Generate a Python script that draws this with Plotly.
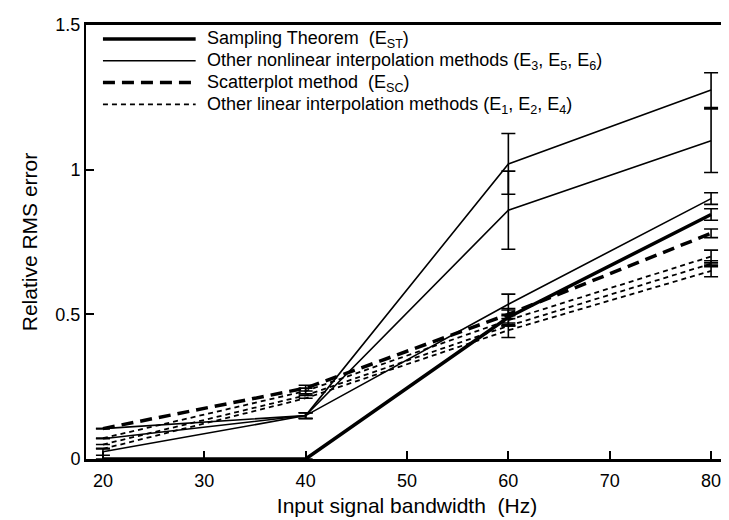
import plotly.graph_objects as go

# ---- data ----
bandwidth = [20, 40, 60, 80]

e_st = [0.0, 0.0, 0.49, 0.845]            # Sampling Theorem
e_st_err = [None, None, 0.03, 0.02]

e3 = [0.105, 0.15, 1.02, 1.275]           # other nonlinear methods
e3_err = [None, 0.01, 0.105, 0.06]
e5 = [0.07, 0.15, 0.86, 1.10]
e5_err = [None, 0.01, 0.135, 0.11]
e6 = [0.025, 0.15, 0.535, 0.90]
e6_err = [0.012, 0.01, 0.035, 0.02]

e_sc = [0.105, 0.245, 0.50, 0.78]         # Scatterplot method
e_sc_err = [None, 0.01, 0.015, 0.015]

e1 = [0.072, 0.235, 0.48, 0.70]           # other linear methods
e1_err = [None, 0.01, 0.015, 0.022]
e2 = [0.05, 0.22, 0.46, 0.675]
e2_err = [None, None, None, 0.01]
e4 = [0.035, 0.21, 0.445, 0.65]
e4_err = [None, None, 0.025, 0.02]

x_ticks = [20, 30, 40, 50, 60, 70, 80]
y_ticks = [0, 0.5, 1, 1.5]
y_ticktext = ["0", "0.5", "1", "1.5"]

legend_labels = [
    "Sampling Theorem  (E<sub>ST</sub>)",
    "Other nonlinear interpolation methods (E<sub>3</sub>, E<sub>5</sub>, E<sub>6</sub>)",
    "Scatterplot method  (E<sub>SC</sub>)",
    "Other linear interpolation methods (E<sub>1</sub>, E<sub>2</sub>, E<sub>4</sub>)",
]

FONT = "Liberation Sans, Arial, sans-serif"

thick = dict(color="black", width=3.5)
thin = dict(color="black", width=1.6)
thick_dash = dict(color="black", width=3.5, dash="12px,7px")
thin_dot = dict(color="black", width=1.8, dash="5px,4px")

series = [
    (e3, e3_err, thin),
    (e5, e5_err, thin),
    (e6, e6_err, thin),
    (e1, e1_err, thin_dot),
    (e2, e2_err, thin_dot),
    (e4, e4_err, thin_dot),
    (e_sc, e_sc_err, thick_dash),
    (e_st, e_st_err, thick),
]

fig = go.Figure()
for vals, errs, line in series:
    fig.add_trace(go.Scatter(
        x=bandwidth, y=vals, mode="lines", line=line, showlegend=False,
        error_y=dict(type="data", array=errs, visible=True, color="black",
                     thickness=1.6, width=7),
    ))

# ---- manual legend (long line samples as in the reference) ----
W, H = 729, 520
L, R, T, B = 78, 7, 14, 69
pw, ph = W - L - R, H - T - B


def px(xp):
    return (xp - L) / pw


def py(yp):
    return (H - B - yp) / ph


legend_styles = [thick, thin, thick_dash, thin_dot]
legend_rows = [28, 50, 72, 94]
for lab, st, yr in zip(legend_labels, legend_styles, legend_rows):
    fig.add_shape(type="line", xref="paper", yref="paper",
                  x0=px(95), x1=px(188), y0=py(yr), y1=py(yr), line=st)
    fig.add_annotation(xref="paper", yref="paper", x=px(197), y=py(yr + 1),
                       text=lab, showarrow=False, xanchor="left",
                       yanchor="middle",
                       font=dict(family=FONT, size=18, color="black"))

fig.update_layout(
    width=W, height=H,
    margin=dict(l=L, r=R, t=T, b=B),
    paper_bgcolor="white", plot_bgcolor="white",
    font=dict(family=FONT, size=18, color="black"),
    showlegend=False,
)
fig.update_xaxes(
    range=[18.33, 81.67], tickvals=x_ticks, ticks="inside", ticklen=8,
    tickwidth=1.5, tickcolor="black", showline=True, linecolor="black",
    linewidth=2.5, mirror=True, showgrid=False, zeroline=False,
    ticklabelstandoff=4,
    title=dict(text="Input signal bandwidth  (Hz)", standoff=8,
               font=dict(size=21)),
)
fig.update_yaxes(
    range=[0, 1.5], tickvals=y_ticks, ticktext=y_ticktext, ticks="inside",
    ticklen=8, tickwidth=1.5, tickcolor="black", showline=True,
    linecolor="black", linewidth=2, mirror=True, showgrid=False,
    zeroline=False,
    title=dict(text="Relative RMS error", standoff=12, font=dict(size=21)),
)

fig.write_html("out.html")
